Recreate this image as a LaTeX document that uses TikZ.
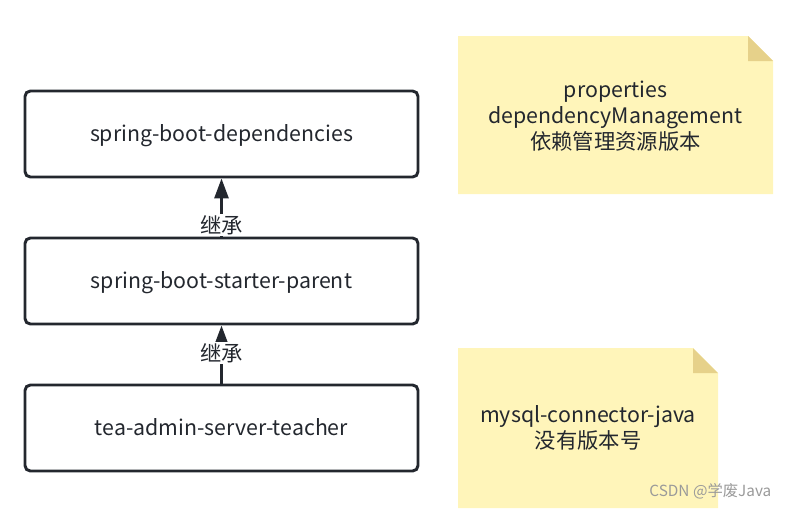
\documentclass[tikz,border=0pt]{standalone}
\usepackage{fontspec}
\setmainfont{Noto Sans CJK SC}
\usetikzlibrary{arrows.meta}
\definecolor{boxline}{HTML}{23272E}
\definecolor{notefill}{HTML}{FFF5BA}
\definecolor{notefold}{HTML}{E6D18A}
\definecolor{wm}{HTML}{9A9A9A}
\tikzset{
  px/.style={x=0.75pt,y=-0.75pt},
  box/.style={draw=boxline,line width=2.2pt,rounded corners=4pt,minimum width=294.75pt,minimum height=64.5pt,inner sep=0pt,font=\fontsize{16pt}{19pt}\selectfont,text=boxline,text depth=1.5pt},
  lbl/.style={fill=white,inner sep=1pt,font=\fontsize{16pt}{18pt}\selectfont,text=boxline},
  conn/.style={draw=boxline,line width=2.2pt,-{Triangle[length=15pt,width=10.5pt]}},
  notetext/.style={align=center,font=\fontsize{16pt}{19.5pt}\selectfont,text=boxline},
}
\begin{document}
\begin{tikzpicture}[px]
\useasboundingbox (0,0) rectangle (786,508);
\node[box] (b1) at (221.5,134) {spring-boot-dependencies};
\node[box] (b2) at (221.5,281) {spring-boot-starter-parent};
\node[box] (b3) at (221.5,428) {tea-admin-server-teacher};
\draw[conn] (b2.north) -- (b1.south) node[lbl,pos=0.2] (l1) {继承};
\draw[conn] (b3.north) -- (b2.south) node[lbl,pos=0.52] (l2) {继承};
% note 1
\fill[notefill] (458,36) -- (748,36) -- (773,61) -- (773,194) -- (458,194) -- cycle;
\fill[notefold] (748,36) -- (773,61) -- (748,61) -- cycle;
\node[notetext] (n1) at (615.5,116) {properties\\dependencyManagement\\依赖管理资源版本};
% note 2
\fill[notefill] (458,348) -- (693,348) -- (718,373) -- (718,508) -- (458,508) -- cycle;
\fill[notefold] (693,348) -- (718,373) -- (693,373) -- cycle;
\node[notetext] (n2) at (588,428) {mysql-connector-java\\没有版本号};
\node[text=wm,font=\fontsize{11.5pt}{13pt}\selectfont,anchor=east] (wm) at (776,491) {CSDN @学废Java};
\end{tikzpicture}
\end{document}
